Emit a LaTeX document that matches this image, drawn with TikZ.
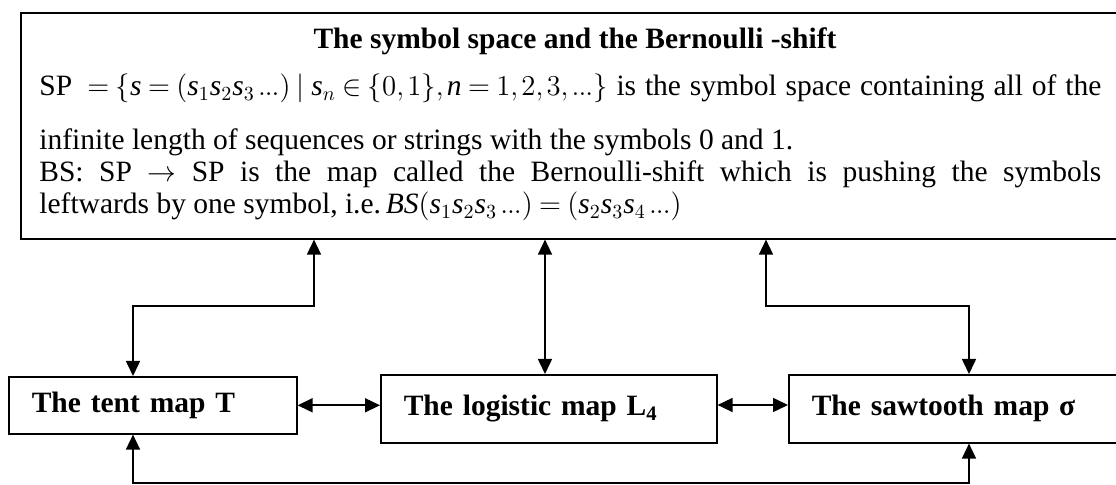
\documentclass[tikz,border=0pt]{standalone}
\usepackage{fontspec}
\setmainfont{Liberation Serif}
\usetikzlibrary{arrows.meta}
\newcommand\mv[1]{\mathit{#1}}
% tight spacing for the set notation of the symbol space
\newcommand\tightmath{\thinmuskip=2mu\medmuskip=3mu\thickmuskip=4mu}
\newcommand\dts{\mathinner{.\kern-0.5pt.\kern-0.5pt.}}
\begin{document}
\begin{tikzpicture}[x=0.5pt,y=-0.5pt,
  txt/.style={inner sep=0pt, anchor=base west, font=\fontsize{14.75pt}{17pt}\selectfont},
  frame/.style={draw, line width=0.8pt, inner sep=0pt, anchor=north west},
  mapbox/.style={frame, font=\fontsize{14.75pt}{17pt}\selectfont\bfseries, align=left, inner xsep=11.5pt},
  link/.style={line width=0.8pt, {Triangle[length=7.5pt,width=7pt]}-{Triangle[length=7.5pt,width=7pt]}},
]
\useasboundingbox (0,0) rectangle (1116,485);
\clip (0,0) rectangle (1116,485);

% the description box of the symbol space
\node[frame, minimum width=553pt, minimum height=113pt] (sp) at (20,12) {};
\node[txt, anchor=base, font=\fontsize{14.75pt}{17pt}\selectfont\bfseries] (title) at (575,49)
  {The symbol space and the Bernoulli -shift};
\node[txt] (l1) at (39,96) {\tightmath\hbox to 531pt{SP ${}=\Bigl\{\mv{s}=(\mv{s}_1\mv{s}_2\mv{s}_3\dts)\mid \mv{s}_n\in\Bigl\{0,1\Bigr\},\mv{n}=1,2,3,\dts\Bigr\}$ is the symbol space containing all of the}};
\node[txt] (l2) at (39,150) {infinite length of sequences or strings with the symbols 0 and 1.};
\node[txt] (l3) at (39,182) {\hbox to 531pt{BS: SP $\rightarrow$ SP is the map called the Bernoulli-shift which is pushing the symbols}};
\node[txt] (l4) at (39,214) {\tightmath leftwards by one symbol, i.e.\,$\mv{BS}(\mv{s}_1\mv{s}_2\mv{s}_3\dts)=(\mv{s}_2\mv{s}_3\mv{s}_4\dts)$};

% the three maps
\node[mapbox, minimum width=144pt, minimum height=28.5pt, text width=121pt] (tent) at (8,376) {The tent map T};
\node[mapbox, minimum width=168pt, minimum height=34pt, text width=145pt] (logi) at (380,374) {The logistic map L\textsubscript{4}};
\node[mapbox, minimum width=171pt, minimum height=34pt, text width=148pt] (saw) at (788,374) {The sawtooth map σ};

% routing points of the connectors
\coordinate (lk) at (314,306);
\coordinate (rk) at (766,306);
\coordinate (lx) at (133,0);
\coordinate (mx) at (545,0);
\coordinate (rx) at (969,0);
\coordinate (ha) at (0,405);
\coordinate (bot) at (0,483);

\draw[link] (sp.south -| lk) -- (lk) -| (tent.north -| lx);
\draw[link] (sp.south -| mx) -- (logi.north -| mx);
\draw[link] (sp.south -| rk) -- (rk) -| (saw.north -| rx);
\draw[link] (tent.east) -- (tent.east -| logi.west);
\draw[link] (logi.east |- ha) -- (saw.west |- ha);
\draw[link] (tent.south -| lx) |- (bot -| rx) -- (saw.south -| rx);
\end{tikzpicture}
\end{document}
